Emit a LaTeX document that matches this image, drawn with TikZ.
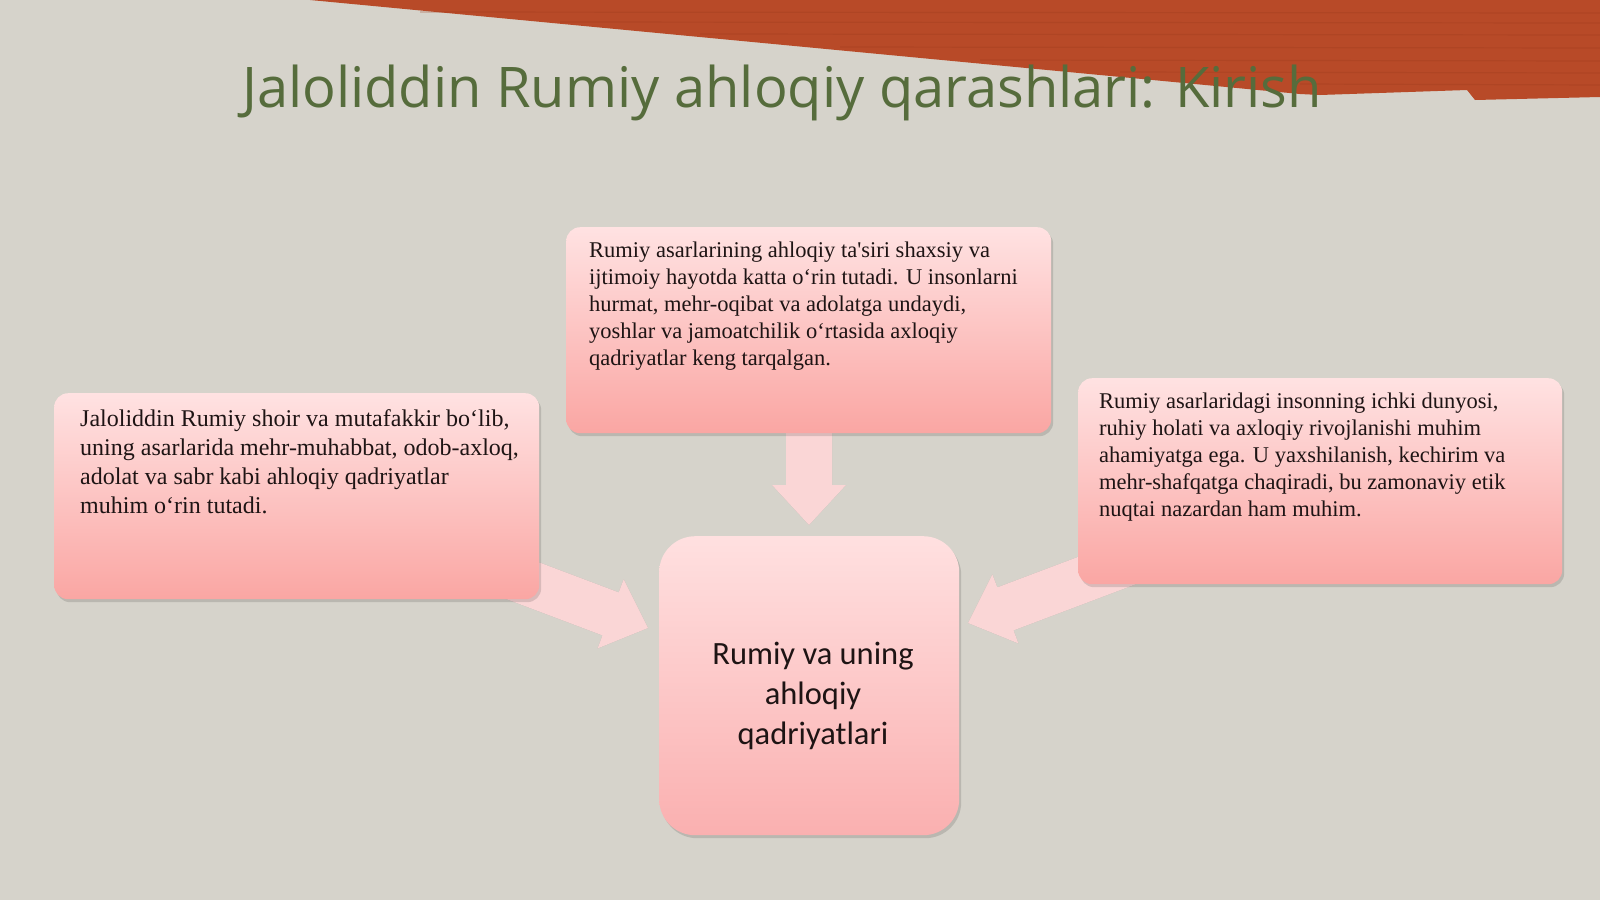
\documentclass[tikz,border=0pt]{standalone}
\usepackage{fontspec}
\setmainfont{Liberation Serif}
\newfontfamily\straightfont[Mapping=]{Liberation Serif}
\newfontfamily\titlefont{Open Sans}
\newfontfamily\calfont{Carlito}
\usetikzlibrary{calc}
\definecolor{bgc}{RGB}{214,211,203}
\definecolor{rust}{RGB}{184,74,40}
\definecolor{rustdark}{RGB}{160,60,30}
\definecolor{titlegreen}{RGB}{86,108,60}
\definecolor{boxtop}{RGB}{255,226,226}
\definecolor{boxbot}{RGB}{250,166,163}
\definecolor{ctop}{RGB}{255,224,224}
\definecolor{cbot}{RGB}{250,176,176}
\definecolor{arrowpink}{RGB}{250,214,214}
\definecolor{bodytext}{RGB}{30,20,20}
\newcommand\blockarr[3]{% #1 name, #2 tail, #3 tip
  \coordinate (#1h) at ($(#3)!40pt!(#2)$);
  \fill[black,opacity=0.16,shift={(1.5,2.5)}]
    ($(#2)!23pt!90:(#3)$) -- ($(#1h)!23pt!-90:(#2)$) -- ($(#1h)!37pt!-90:(#2)$) -- (#3)
    -- ($(#1h)!37pt!90:(#2)$) -- ($(#1h)!23pt!90:(#2)$) -- ($(#2)!23pt!-90:(#3)$) -- cycle;
  \fill[arrowpink]
    ($(#2)!23pt!90:(#3)$) -- ($(#1h)!23pt!-90:(#2)$) -- ($(#1h)!37pt!-90:(#2)$) -- (#3)
    -- ($(#1h)!37pt!90:(#2)$) -- ($(#1h)!23pt!90:(#2)$) -- ($(#2)!23pt!-90:(#3)$) -- cycle;
}
\begin{document}
\begin{tikzpicture}[x=1pt,y=-1pt,
  infobox/.style={rounded corners=14pt, minimum width=#1, minimum height=206pt,
    anchor=north west, inner sep=0pt, top color=boxtop, bottom color=boxbot},
  centerbox/.style={rounded corners=36pt, minimum width=300pt, minimum height=299pt,
    anchor=north west, inner sep=0pt, top color=ctop, bottom color=cbot},
  shadowbox/.style={rounded corners=#1, fill=black, opacity=0.13, inner sep=0pt, anchor=north west},
  bodytxt/.style={anchor=north west, inner sep=0pt, align=left, text=bodytext,
    font=\fontsize{22.5}{27}\selectfont},
]
\useasboundingbox (0,0) rectangle (1600,900);
\fill[bgc] (0,0) rectangle (1600,900);
% banner
\fill[rust] (310,0) -- (1600,0) -- (1600,97) -- (1475,100) -- (1467,90)
  -- (1320,95) -- (1300,94) -- cycle;
\foreach \yy/\xs in {12/420,22/560,34/700,47/840,60/980,72/1120,84/1300}{
  \draw[rustdark,opacity=0.35,line width=1.2pt] (\xs,\yy) -- (1600,\yy+1);
}
% title
\node[anchor=base west, inner sep=0pt, text=titlegreen,
  font=\titlefont\fontsize{56}{60}\selectfont] (title) at (242,107)
  {Jaloliddin Rumiy ahloqiy qarashlari: Kirish};
% arrows (drawn under boxes)
\coordinate (dtail) at (809,415);
\coordinate (dtip) at (809,525);
\coordinate (ltail) at (489,568);
\coordinate (ltip) at (648,628);
\coordinate (rtail) at (1127,563);
\coordinate (rtip) at (968,623);
\blockarr{da}{dtail}{dtip}
\blockarr{la}{ltail}{ltip}
\blockarr{ra}{rtail}{rtip}
% box shadows
\node[shadowbox=14pt, minimum width=485pt, minimum height=206pt] at (568,230) {};
\node[shadowbox=14pt, minimum width=485pt, minimum height=206pt] at (56,396) {};
\node[shadowbox=14pt, minimum width=484pt, minimum height=206pt] at (1080,381) {};
\node[shadowbox=36pt, minimum width=300pt, minimum height=299pt] at (661,539) {};
% boxes
\node[infobox=485pt] (top) at (566,227) {};
\node[infobox=485pt] (left) at (54,393) {};
\node[infobox=484pt] (right) at (1078,378) {};
\node[centerbox] (ctr) at (659,536) {};
% texts
\node[bodytxt] (toptext) at ($(top.north west)+(23,15)$)
  {Rumiy asarlarining ahloqiy ta{\straightfont\char39}siri shaxsiy va\\
   ijtimoiy hayotda katta o‘rin tutadi. U insonlarni\\
   hurmat, mehr-oqibat va adolatga undaydi,\\
   yoshlar va jamoatchilik o‘rtasida axloqiy\\
   qadriyatlar keng tarqalgan.};
\node[bodytxt, font=\fontsize{24}{29}\selectfont] (lefttext) at ($(left.north west)+(26,16)$)
  {Jaloliddin Rumiy shoir va mutafakkir bo‘lib,\\
   uning asarlarida mehr-muhabbat, odob-axloq,\\
   adolat va sabr kabi ahloqiy qadriyatlar\\
   muhim o‘rin tutadi.};
\node[bodytxt] (righttext) at ($(right.north west)+(21,15)$)
  {Rumiy asarlaridagi insonning ichki dunyosi,\\
   ruhiy holati va axloqiy rivojlanishi muhim\\
   ahamiyatga ega. U yaxshilanish, kechirim va\\
   mehr-shafqatga chaqiradi, bu zamonaviy etik\\
   nuqtai nazardan ham muhim.};
\node[align=center, inner sep=0pt, text=bodytext, font=\calfont\fontsize{32.5}{40}\selectfont]
  (ctrtext) at (813,696) {Rumiy va uning\\ahloqiy\\qadriyatlari};
\end{tikzpicture}
\end{document}
